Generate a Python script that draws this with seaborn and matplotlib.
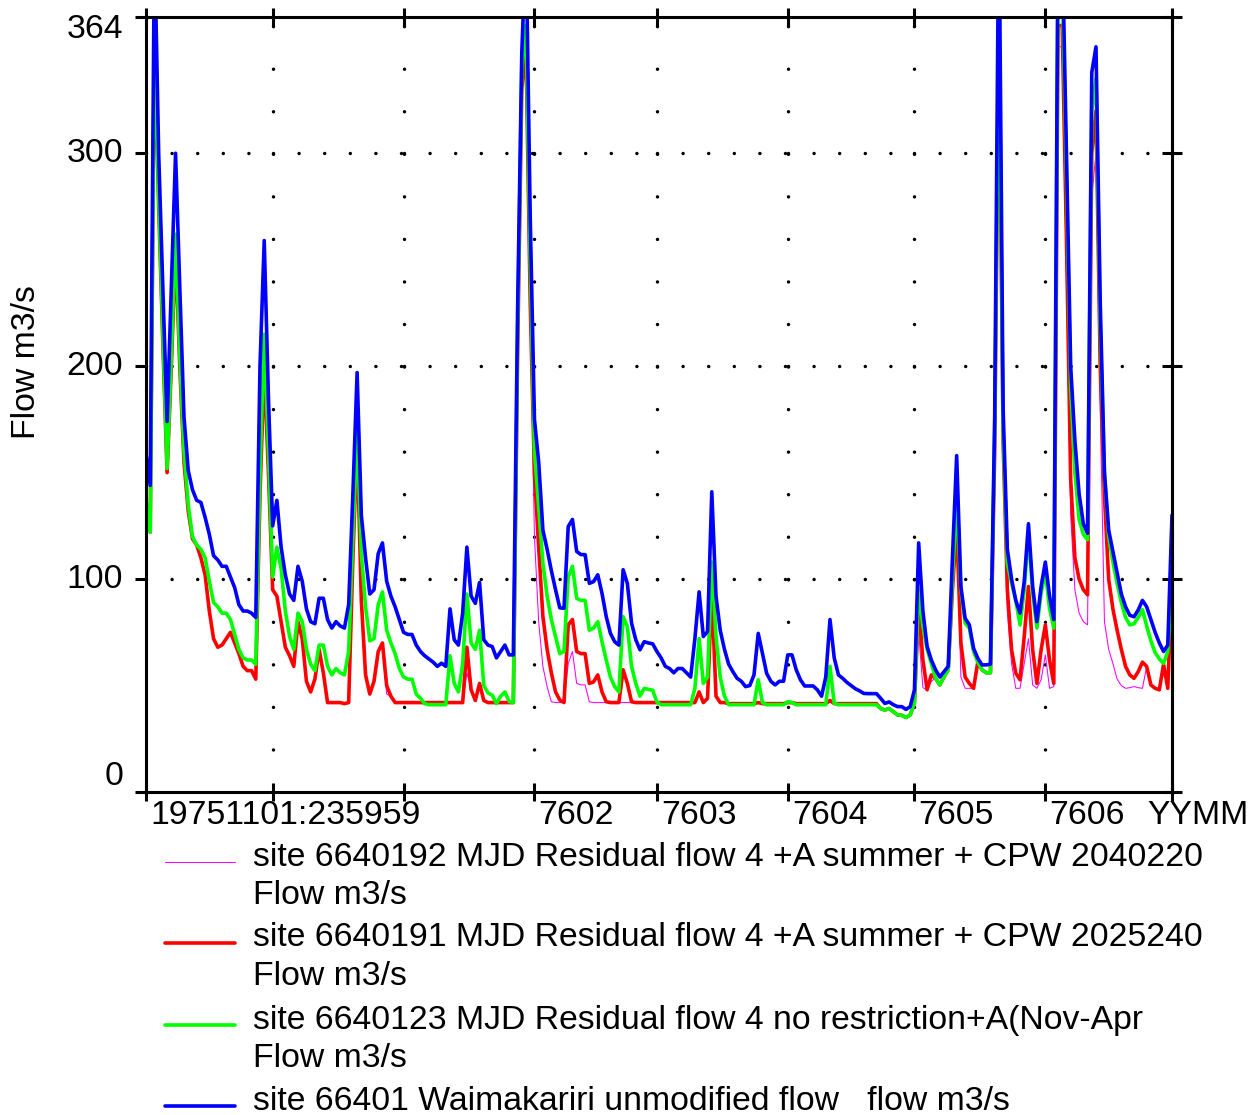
import matplotlib
matplotlib.use("Agg")
import numpy as np
import pandas as pd
import matplotlib.pyplot as plt
import seaborn as sns
from matplotlib.lines import Line2D
from matplotlib.transforms import ScaledTranslation

# Daily flows, 1 Nov 1975 .. 1 Jul 1976 (m3/s)
dates = pd.date_range("1975-11-01", "1976-07-01", freq="D")

flow_unmodified = [  # site 66401 Waimakariri unmodified flow
    159, 144, 400, 300, 236, 174, 237, 300, 237, 176,
    151, 142, 137, 136, 129, 121, 111, 109, 106, 106,
    101, 96, 88, 85, 85, 84, 82, 200, 259, 185,
    125, 137, 115, 102, 93, 90, 106, 99, 86, 80,
    79, 91, 91, 81, 77, 80, 78, 77, 88, 140,
    197, 130, 110, 93, 95, 112, 117, 99, 92, 87, 81,
    75, 74, 74, 69, 66, 64, 62.5, 61, 59, 60.5,
    59, 86, 71.5, 69, 84, 115, 92, 88.6, 98.4, 71.5,
    69, 68.3, 63, 66, 69, 64.4, 64.4, 225, 347, 400, 270,
    175, 155, 123, 114, 104, 95, 86.5, 86.3, 124.7, 128,
    113, 111.5, 111.5, 98, 98.8, 102, 93.3, 82.4, 74.5, 70.6,
    69, 104.4, 98, 79.3, 71.5, 66.8, 70.6, 70, 69.6,
    66, 63, 59, 58, 56, 58, 58, 56, 54, 72,
    94, 73, 75.4, 141, 92, 76, 67, 60, 56.5, 53.4,
    52, 49.5, 50, 55, 74.5, 65, 55.7, 52, 50.3, 52, 52,
    64.4, 64.4, 57.4, 52.7, 49.8, 49.8, 49.8, 48, 45, 54,
    81, 63, 55, 53.4, 51.5, 50, 48.5, 47.5, 46.3, 46.2,
    46.2, 46.2, 44, 41.6, 42.3, 41, 40.1, 40.1, 38.8, 40.1,
    48, 117, 85, 68.3, 62, 57.4, 54, 56.5, 59, 110,
    158, 96.5, 81.6, 78.5, 67.5, 62.8, 59.7, 59.7, 60, 175,
    420, 180, 114, 100, 90, 84, 98.8, 126, 96.5, 80, 96.5,
    108, 92, 81, 400, 400, 300, 200, 165, 140, 126,
    121.5, 338, 350, 230, 150, 123, 113, 103, 93, 87,
    83, 82.3, 85.5, 90, 87, 81, 75, 70, 66, 69,
    130,
]

flow_6640123 = [  # no restriction + A (Nov-Apr)
    137, 122, 360, 280, 215, 152, 205, 262, 205, 160,
    135, 120, 116, 114, 110, 99, 89, 87, 84, 84,
    81, 74, 67, 63, 62, 62, 60, 150, 215, 160,
    101, 115, 105, 85, 73, 67, 84, 80, 67, 60,
    57, 69, 69, 59, 55, 58, 56, 55, 66, 120,
    170, 112, 87, 71, 72, 88, 94, 76, 70, 65, 58,
    54, 53, 53, 46, 44, 41.5, 41, 41, 41, 41,
    41, 64, 51, 47, 60, 93, 70, 67, 76, 50,
    46.5, 45.5, 41.5, 45, 47, 42.5, 42, 215, 340, 360, 250,
    160, 134, 107.5, 92, 81, 73, 65, 66, 101, 106,
    91, 90, 90, 76, 77, 80, 70.6, 62, 54, 49.5,
    47, 82.4, 77.7, 59, 51, 45, 48.7, 48.2, 47.8,
    42.3, 41, 41, 41, 41, 41, 41, 41, 41, 48.7,
    72, 51, 54, 108, 73, 54, 45, 41, 41, 41,
    41, 41, 41, 41, 52.7, 42, 41, 41, 41, 41, 41,
    42.4, 42, 41, 41, 41, 41, 41, 41, 41, 41,
    59, 41.6, 41, 41, 41, 41, 41, 41, 41, 41,
    41, 41, 39.2, 38.5, 39.2, 37.7, 36.2, 36, 35, 36.2,
    42, 95, 78, 67, 60.4, 53.4, 50.3, 54, 57.4, 100,
    138, 95, 79.3, 77, 66, 61, 57.4, 56, 56, 170,
    370, 170, 107.5, 98, 90, 78.5, 95, 121.5, 93.3, 77, 93.3,
    103.6, 86.2, 77, 380, 380, 290, 190, 150, 128, 121,
    118.5, 320, 335, 220, 150, 120, 108, 98, 89, 82,
    78.5, 79, 82, 85.6, 78, 71, 65.5, 62.5, 60.4, 66,
    100,
]

flow_6640191 = [  # +A summer + CPW 2025240
    137, 122, 355, 275, 210, 150, 200, 255, 200, 155,
    132, 119, 116, 110, 102, 85, 72, 68, 69, 72,
    75, 70, 65, 59, 57, 57, 53, 140, 200, 150,
    95, 92, 80, 68, 64, 59, 80, 72, 52, 47,
    53, 67, 56, 42, 42, 42, 42, 41.5, 42, 110,
    165, 90, 55, 46, 52, 66, 70, 50, 45, 42, 42,
    42, 42, 42, 42, 42, 42, 42, 42, 42, 42,
    42, 42, 42, 42, 42, 68, 48, 43, 51, 43,
    42, 42, 42, 42, 42, 42, 42, 205, 330, 350, 230,
    150, 115, 82.4, 67, 56, 47, 43.2, 42, 78.5, 81,
    66, 65, 65, 51, 51.7, 55, 47, 42.4, 42, 42,
    42, 57.4, 51, 42.4, 42, 42, 42, 42, 42,
    42, 42, 42, 42, 42, 42, 42, 42, 42, 42,
    47, 42, 44, 95, 45, 42, 42, 41.5, 41.5, 41.5,
    41.5, 41.5, 41.5, 41.5, 42, 41.5, 41.5, 41.5, 41.5, 41.5, 41.5,
    42, 42, 41.5, 41.5, 41.5, 41.5, 41.5, 41.5, 41.5, 41.5,
    43, 41.5, 41.5, 41.5, 41.5, 41.5, 41.5, 41.5, 41.5, 41.5,
    41.5, 41.5, 39.2, 38.5, 39.2, 37.7, 36.2, 36, 35, 36.2,
    42, 88, 62, 48, 55, 53.4, 50.3, 54, 57.4, 95,
    125, 70, 54, 51, 48.7, 61, 57.4, 56, 56, 160,
    360, 165, 95, 66.8, 55.8, 52.7, 73, 96.5, 66.8, 51, 66.8,
    78.5, 62, 51, 360, 360, 260, 147, 110, 100, 95,
    92.6, 300, 320, 200, 139, 100, 86, 76, 67, 59,
    55, 53.4, 56.5, 61, 59, 50.3, 48.7, 48, 60, 48.7,
    101,
]

flow_6640192 = [  # +A summer + CPW 2040220
    137, 122, 355, 275, 210, 150, 200, 255, 200, 155,
    132, 119, 116, 110, 102, 85, 72, 68, 69, 72,
    75, 70, 65, 59, 57, 57, 53, 140, 200, 150,
    95, 92, 80, 68, 64, 59, 80, 72, 52, 47,
    53, 67, 56, 42, 42, 42, 42, 41.5, 42, 110,
    165, 90, 55, 46, 52, 66, 70, 46, 45, 42, 42,
    42, 42, 42, 42, 42, 42, 42, 42, 42, 42,
    42, 42, 42, 42, 42, 56, 48, 43, 51, 43,
    42, 42, 42, 42, 42, 42, 42, 205, 330, 350, 230,
    120, 80, 59, 49.5, 42.4, 42, 42, 42, 60.4, 66,
    51, 50.3, 50.3, 42.4, 42, 42, 42, 42, 42, 42,
    42, 42, 42, 42, 42, 42, 42, 42, 42,
    42, 42, 42, 42, 42, 42, 42, 42, 42, 42,
    47, 42, 44, 95, 45, 42, 42, 41.5, 41.5, 41.5,
    41.5, 41.5, 41.5, 41.5, 42, 41.5, 41.5, 41.5, 41.5, 41.5, 41.5,
    42, 42, 41.5, 41.5, 41.5, 41.5, 41.5, 41.5, 41.5, 41.5,
    43, 41.5, 41.5, 41.5, 41.5, 41.5, 41.5, 41.5, 41.5, 41.5,
    41.5, 41.5, 39.2, 38.5, 39.2, 37.7, 36.2, 36, 35, 36.2,
    42, 75, 49, 48, 52, 53.4, 50.3, 54, 57.4, 95,
    125, 54, 48.7, 48.7, 48.7, 61, 57.4, 56, 56, 160,
    360, 165, 85, 60.4, 48.7, 48.7, 60.4, 72, 50.3, 48.7, 52.7,
    64.4, 48.7, 49.5, 350, 350, 240, 130, 95, 84, 80,
    78.5, 280, 300, 180, 80, 67, 60.4, 53, 50, 48.7,
    49, 49.5, 49, 48.7, 59, 50.3, 48.7, 48, 60, 48.7,
    101,
]

legend_lines = [
    ["site 6640192 MJD Residual flow 4 +A summer + CPW 2040220", "Flow m3/s"],
    ["site 6640191 MJD Residual flow 4 +A summer + CPW 2025240", "Flow m3/s"],
    ["site 6640123 MJD Residual flow 4 no restriction+A(Nov-Apr", "Flow m3/s"],
    ["site 66401 Waimakariri unmodified flow   flow m3/s"],
]
month_labels = ["19751101:235959", "", "", "7602", "7603", "7604", "7605", "7606", ""]
y_ticks = [0, 100, 200, 300, 364]

df = pd.DataFrame({
    "date": dates,
    "s192": flow_6640192,
    "s191": flow_6640191,
    "s123": flow_6640123,
    "s401": flow_unmodified,
})

sns.set_style("ticks")
plt.rcParams["font.family"] = ["Liberation Sans", "DejaVu Sans"]
plt.rcParams.update({
    "text.color": "black",
    "axes.labelcolor": "black",
    "xtick.color": "black",
    "ytick.color": "black",
    "axes.edgecolor": "black",
})
FS = 24.3
W, H = 1256, 1115

fig = plt.figure(figsize=(W / 100, H / 100), dpi=100)
ax = fig.add_axes([146 / W, 1 - 792 / H, 1026 / W, 775 / H])

styles = [
    ("s192", "#ff00ff", 0.75),
    ("s191", "#ff0000", 2.6),
    ("s123", "#00ff00", 2.6),
    ("s401", "#0000ff", 2.6),
]
for z, (col, color, lw) in enumerate(styles):
    sns.lineplot(data=df, x="date", y=col, color=color, linewidth=lw,
                 estimator=None, legend=False, ax=ax, zorder=3 + z)

months = pd.date_range("1975-11-01", "1976-07-01", freq="MS")
ax.set_xlim(months[0], months[-1])
ax.set_ylim(0, 364)
ax.set_xlabel("")
ax.set_ylabel("")

# dotted grid: every 20 m3/s on month lines, dots spaced along 100/200/300
GLW = 2.5
ax.vlines(months[1:-1], 0, 364, colors="black", linewidth=GLW,
          linestyles=[(0, (0.001, 30.63 / GLW))], capstyle="round", zorder=1)
for a, b in zip(months[:-1], months[1:]):
    ax.hlines([100, 200, 300], a, b, colors="black", linewidth=GLW,
              linestyles=[(0, (0.001, 18.43 / GLW))], capstyle="round", zorder=1)

for s in ax.spines.values():
    s.set_linewidth(2.2)
    s.set_color("black")
    s.set_zorder(10)

ax.set_xticks(months)
ax.set_xticklabels(month_labels, ha="left", fontsize=FS, color="black")
ax.tick_params(axis="x", bottom=True, top=True, direction="inout",
               length=13, width=2.2, pad=-1, labelsize=FS, color="black",
               labelcolor="black")
shift = ScaledTranslation(4 / 100, 0, fig.dpi_scale_trans)
for lab in ax.get_xticklabels():
    lab.set_transform(lab.get_transform() + shift)

ax.set_yticks(y_ticks)
ax.set_yticklabels([str(v) for v in y_ticks], fontsize=FS, color="black")
ax.tick_params(axis="y", left=True, right=False, direction="out",
               length=8, width=2.2, pad=8.5, labelsize=FS, color="black",
               labelcolor="black")
ylabs = ax.get_yticklabels()
for lab in ylabs:
    lab.set_va("center")
ylabs[0].set_va("bottom")
ylabs[-1].set_va("top")
ylabs[-1].set_transform(ylabs[-1].get_transform()
                        + ScaledTranslation(0, 3 / 100, fig.dpi_scale_trans))

sec = ax.secondary_yaxis("right")
sec.set_yticks(y_ticks)
sec.tick_params(direction="inout", length=14, width=2.2, labelright=False,
                color="black")
sec.spines["right"].set_linewidth(2.2)
sec.spines["right"].set_color("black")

ax.annotate("YYMM", xy=(1, 0), xycoords="axes fraction",
            xytext=(-18, -5.5), textcoords="offset points",
            ha="left", va="top", fontsize=FS, color="black")

fig.text(27 / W, 1 - 362 / H, "Flow m3/s", rotation=90, ha="center",
         va="center", fontsize=FS, color="black")

# legend below the plot
sample_y = [862, 943, 1025, 1106]
for (col, color, lw), lines, yy in zip(styles, legend_lines, sample_y):
    fig.add_artist(Line2D([165 / W, 235 / W], [1 - yy / H] * 2,
                          transform=fig.transFigure, color=color, linewidth=lw))
    for k, txt in enumerate(lines):
        base = yy + 3.5 + k * 38.5
        fig.text(253 / W, 1 - base / H, txt, va="baseline", ha="left",
                 fontsize=FS, color="black")

fig.savefig("out.png", dpi=100)
